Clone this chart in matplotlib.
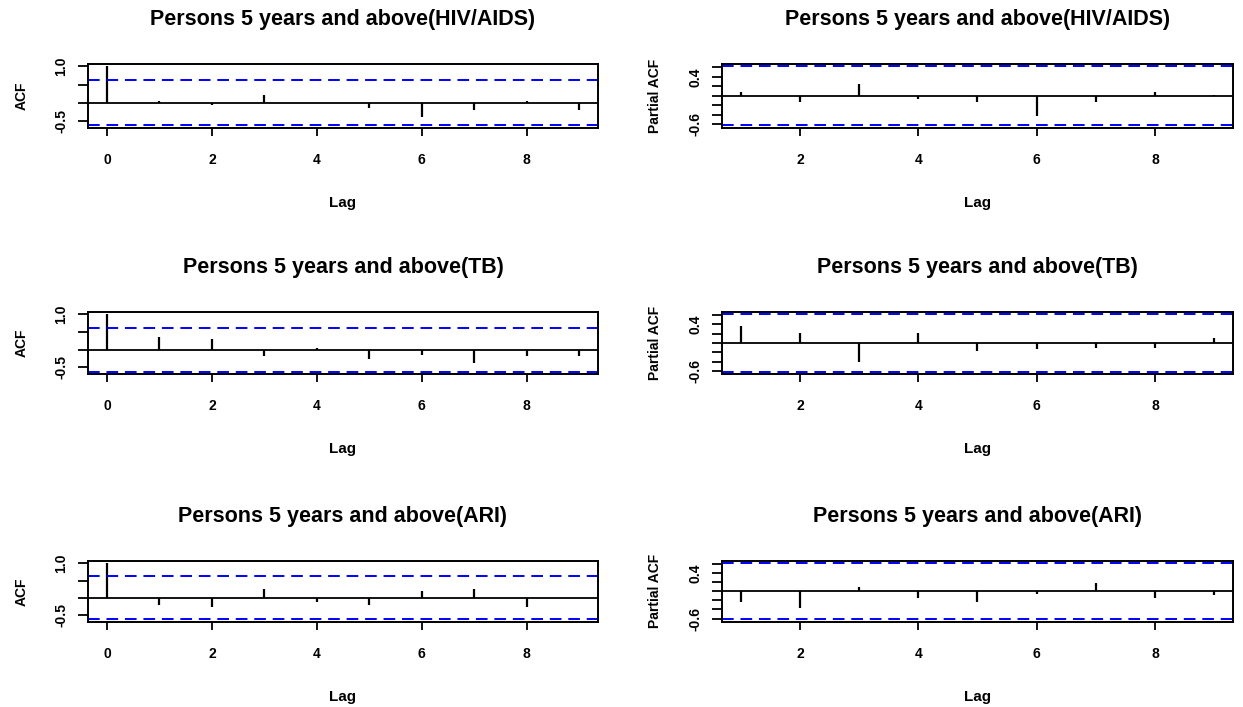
import matplotlib
matplotlib.use("Agg")
import matplotlib.pyplot as plt

plt.rcParams['font.family'] = ['Liberation Sans', 'DejaVu Sans']

# 1243 x 707 image, R-style acf / pacf panels

lags_acf = [0, 1, 2, 3, 4, 5, 6, 7, 8, 9]
lags_pacf = [1, 2, 3, 4, 5, 6, 7, 8, 9]

titles = ["Persons 5 years and above(HIV/AIDS)",
          "Persons 5 years and above(TB)",
          "Persons 5 years and above(ARI)"]

hiv_acf = [1.0, 0.05, -0.07, 0.2, 0.0, -0.13, -0.38, -0.21, 0.05, -0.2]
hiv_pacf = [0.09, -0.12, 0.24, -0.06, -0.12, -0.43, -0.12, 0.09, 0.01]

tb_acf = [1.0, 0.36, 0.30, -0.19, 0.05, -0.26, -0.14, -0.38, -0.19, -0.19]
tb_pacf = [0.36, 0.22, -0.41, 0.22, -0.18, -0.14, -0.1, -0.1, 0.1]

ari_acf = [1.0, -0.19, -0.25, 0.25, -0.13, -0.19, 0.19, 0.25, -0.25, 0.0]
ari_pacf = [-0.23, -0.36, 0.1, -0.14, -0.23, -0.05, 0.19, -0.14, -0.09]

conf_limit = 0.62  # 1.96/sqrt(10)

acf_ticks = [-0.5, 0.0, 0.5, 1.0]
acf_ticklabels = ["-0.5", "", "", "1.0"]
pacf_ticks = [-0.6, -0.4, -0.2, 0.0, 0.2, 0.4, 0.6]
pacf_ticklabels = ["-0.6", "", "", "", "", "0.4", ""]

W, H = 1243, 707
fig = plt.figure(figsize=(W / 100, H / 100), dpi=100)

rows = [(64, 127.7), (312, 374), (561, 621.7)]
cols = [(88, 598), (721.7, 1233)]


def make_ax(row, col):
    x0, x1 = cols[col]
    y0, y1 = rows[row]
    return fig.add_axes([x0 / W, 1 - y1 / H, (x1 - x0) / W, (y1 - y0) / H])


def style(ax, title, ylabel):
    for s in ax.spines.values():
        s.set_linewidth(1.4)
    ax.tick_params(axis='x', length=6, width=1.3, pad=12, labelsize=10)
    ax.tick_params(axis='y', length=7, width=1.3, pad=7, labelsize=10)
    for lab in ax.get_xticklabels():
        lab.set_fontweight('bold')
    for lab in ax.get_yticklabels():
        lab.set_rotation(90)
        lab.set_va('center')
        lab.set_fontweight('bold')
    ax.set_title(title, fontsize=15.5, fontweight='bold', pad=28)
    ax.set_xlabel("Lag", fontsize=11, fontweight='bold', labelpad=21)
    ax.set_ylabel(ylabel, fontsize=10, fontweight='bold', labelpad=19)


panels = [(hiv_acf, hiv_pacf), (tb_acf, tb_pacf), (ari_acf, ari_pacf)]

for i, (acf_vals, pacf_vals) in enumerate(panels):
    # ACF
    ax = make_ax(i, 0)
    ax.vlines(lags_acf, 0, acf_vals, color='black', lw=1.6)
    ax.axhline(0, color='black', lw=1.3)
    ax.axhline(conf_limit, color='blue', lw=1.4, dashes=(6, 3.5))
    ax.axhline(-conf_limit, color='blue', lw=1.4, dashes=(6, 3.5))
    lo, hi = min(min(acf_vals), -conf_limit), max(max(acf_vals), conf_limit)
    pad = 0.04 * (hi - lo)
    ax.set_ylim(lo - pad, hi + pad)
    pad = 0.04 * 9
    ax.set_xlim(0 - pad, 9 + pad)
    ax.set_xticks([0, 2, 4, 6, 8])
    ax.set_yticks(acf_ticks)
    ax.set_yticklabels(acf_ticklabels)
    style(ax, titles[i], "ACF")

    # PACF
    ax = make_ax(i, 1)
    ax.vlines(lags_pacf, 0, pacf_vals, color='black', lw=1.6)
    ax.axhline(0, color='black', lw=1.3)
    ax.axhline(conf_limit, color='blue', lw=1.4, dashes=(6, 3.5))
    ax.axhline(-conf_limit, color='blue', lw=1.4, dashes=(6, 3.5))
    lo, hi = min(min(pacf_vals), -conf_limit), max(max(pacf_vals), conf_limit)
    pad = 0.04 * (hi - lo)
    ax.set_ylim(lo - pad, hi + pad)
    pad = 0.04 * 8
    ax.set_xlim(1 - pad, 9 + pad)
    ax.set_xticks([2, 4, 6, 8])
    ax.set_yticks(pacf_ticks)
    ax.set_yticklabels(pacf_ticklabels)
    style(ax, titles[i], "Partial ACF")

fig.savefig("out.png", dpi=100)
